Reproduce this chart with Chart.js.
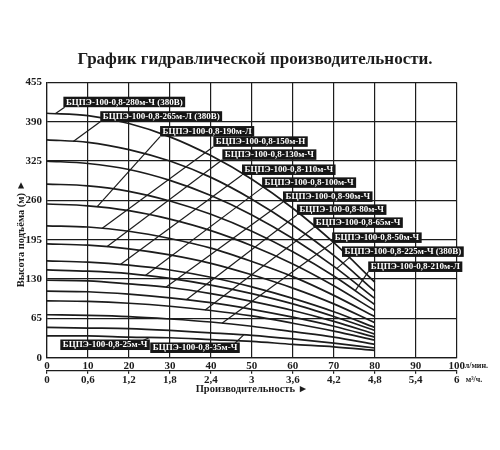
<!DOCTYPE html>
<html>
<head>
<meta charset="utf-8">
<script src="https://cdn.jsdelivr.net/npm/chart.js@4"></script>
<style>
  body { margin: 0; background: #fff; }
  #wrap { width: 500px; height: 450px; }
</style>
</head>
<body>
<div id="wrap"><canvas id="chart"></canvas></div>
<script>
// flow, l/min
var flowLpm = [0, 10, 20, 30, 40, 50, 60, 70, 80];

// head, m
var head280 = [404, 400, 387, 365, 334, 295, 247, 190, 125];
var head265 = [360, 356, 344, 325, 298, 262, 219, 169, 110];
var head225 = [325, 321, 311, 293, 268, 236, 197, 151, 98];
var head210 = [287, 284, 275, 259, 237, 209, 175, 135, 88];
var head190 = [254, 251, 243, 229, 210, 185, 155, 119, 78];
var head150 = [218, 216, 209, 197, 181, 159, 134, 103, 68];
var head130 = [188, 186, 180, 170, 156, 137, 115, 89, 58];
var head110 = [160, 158, 153, 145, 133, 117, 98, 76, 50];
var head100 = [145, 143, 139, 131, 120, 106, 89, 68, 45];
var head90 = [128, 127, 122, 116, 106, 93, 78, 60, 39];
var head80 = [110, 109, 105, 99, 91, 80, 67, 52, 34];
var head65 = [94, 93, 90, 85, 78, 69, 57, 44, 29];
var head50 = [71, 70, 68, 64, 59, 52, 43, 34, 22];
var head35 = [50, 49, 48, 45, 41, 37, 31, 24, 16];
var head25 = [36, 36, 34, 33, 30, 27, 22, 18, 12];

var pumpNames = [
  'БЦПЭ-100-0,8-280м-Ч (380В)', 'БЦПЭ-100-0,8-265м-Л (380В)', 'БЦПЭ-100-0,8-225м-Ч (380В)',
  'БЦПЭ-100-0,8-210м-Л', 'БЦПЭ-100-0,8-190м-Л', 'БЦПЭ-100-0,8-150м-Н', 'БЦПЭ-100-0,8-130м-Ч',
  'БЦПЭ-100-0,8-110м-Ч', 'БЦПЭ-100-0,8-100м-Ч', 'БЦПЭ-100-0,8-90м-Ч', 'БЦПЭ-100-0,8-80м-Ч',
  'БЦПЭ-100-0,8-65м-Ч', 'БЦПЭ-100-0,8-50м-Ч', 'БЦПЭ-100-0,8-35м-Ч', 'БЦПЭ-100-0,8-25м-Ч'
];
var pumpHeads = [head280, head265, head225, head210, head190, head150, head130,
  head110, head100, head90, head80, head65, head50, head35, head25];

// axis ticks
var headTicks = [0, 65, 130, 195, 260, 325, 390, 455];
var lpmTicks = [0, 10, 20, 30, 40, 50, 60, 70, 80, 90, 100];
var m3hTicks = [0, 0.6, 1.2, 1.8, 2.4, 3, 3.6, 4.2, 4.8, 5.4, 6];
var m3hLabels = ['0', '0,6', '1,2', '1,8', '2,4', '3', '3,6', '4,2', '4,8', '5,4', '6'];

// label boxes: bottom-left corner, leader start (flow on curve), leader end
var boxAt = [[4.0, 414], [13.0, 390], [72.0, 166.6], [78.4, 141.7], [27.6, 365.5], [40.6, 348.5],
  [42.8, 327], [47.6, 302], [52.5, 280.7], [57.6, 257.5], [61, 236], [65, 214.5], [69.6, 189.7],
  [25.2, 7.8], [3.25, 12.7]];
var leaderFrom = [2, 6.4, 70.7, 75.2, 12.2, 13.4, 14.6, 17.9, 24, 29, 34, 38.6, 42.7, 48, 25];
var leaderTo = [[4.3, 414], [13.0, 390], [74, 166.6], [78.4, 141.7], [27.6, 365.5], [40.6, 348.5],
  [42.8, 327], [47.6, 302], [52.5, 280.7], [57.6, 257.5], [61, 236], [65, 214.5], [69.6, 189.7],
  [45.2, 19.4], [23.2, 27.6]];

var FONT = '"Liberation Serif", "Times New Roman", serif';
var INK = '#1c1c1c';

function headAt(arr, q) {
  for (var i = 0; i < flowLpm.length - 1; i++) {
    if (q <= flowLpm[i + 1]) {
      var t = (q - flowLpm[i]) / (flowLpm[i + 1] - flowLpm[i]);
      return arr[i] + (arr[i + 1] - arr[i]) * t;
    }
  }
  return arr[arr.length - 1];
}

var datasets = [];
pumpHeads.forEach(function (arr) {
  datasets.push({
    data: flowLpm.map(function (q, i) { return { x: q, y: arr[i] }; }),
    borderColor: INK, borderWidth: 1.7, pointRadius: 0,
    cubicInterpolationMode: 'monotone', fill: false
  });
});
pumpHeads.forEach(function (arr, i) {
  datasets.push({
    data: [{ x: leaderFrom[i], y: headAt(arr, leaderFrom[i]) }, { x: leaderTo[i][0], y: leaderTo[i][1] }],
    borderColor: INK, borderWidth: 1.2, pointRadius: 0, tension: 0, fill: false
  });
});

// black name boxes, axis units, title and the vertical axis name
var labelPlugin = {
  id: 'pumpLabels',
  afterDatasetsDraw: function (chart) {
    var ctx = chart.ctx, x = chart.scales.x, y = chart.scales.y, x2 = chart.scales.x2;
    ctx.save();
    ctx.font = 'bold 9px ' + FONT;
    ctx.textBaseline = 'middle';
    pumpNames.forEach(function (name, i) {
      var px = x.getPixelForValue(boxAt[i][0]);
      var py = y.getPixelForValue(boxAt[i][1]);
      var w = ctx.measureText(name).width + 5;
      ctx.fillStyle = '#161616';
      ctx.fillRect(px, py - 10.5, w, 10.5);
      ctx.fillStyle = '#fff';
      ctx.fillText(name, px + 2.5, py - 5);
    });
    ctx.fillStyle = INK;
    ctx.font = 'bold 8px ' + FONT;
    ctx.fillText('л/мин.', x.getPixelForValue(100) + 8, x.top + 8.5);
    ctx.fillText('м³/ч.', x2.getPixelForValue(6) + 9, x2.top + 9);

    ctx.textAlign = 'center';
    ctx.font = 'bold 17px ' + FONT;
    ctx.fillText('График гидравлической производительности.', 255, 60);

    // y axis name, a bit below the middle as in the picture
    ctx.translate(21, y.getPixelForValue(205));
    ctx.rotate(-Math.PI / 2);
    ctx.font = 'bold 10.5px ' + FONT;
    ctx.fillText('Высота подъёма (м) ►', 0, 0);
    ctx.restore();
  }
};

Chart.defaults.font.family = FONT;
Chart.defaults.color = INK;

new Chart(document.getElementById('chart'), {
  type: 'line',
  data: { datasets: datasets },
  plugins: [labelPlugin],
  options: {
    responsive: true,
    maintainAspectRatio: false,
    animation: false,
    layout: { padding: { top: 82.4, left: 10, right: 43.3, bottom: 47.3 } },
    plugins: {
      legend: { display: false },
      tooltip: { enabled: false },
      title: { display: false }
    },
    scales: {
      y: {
        min: 0, max: 455,
        afterBuildTicks: function (s) { s.ticks = headTicks.map(function (v) { return { value: v }; }); },
        afterFit: function (s) { s.width = 37; s.paddingTop = 0; s.paddingBottom = 0; },
        ticks: { font: { size: 11, weight: 'bold' }, padding: 5 },
        grid: { color: INK, lineWidth: 1.2, drawTicks: false },
        border: { color: INK, width: 1.2 }
      },
      x: {
        type: 'linear', position: 'bottom', weight: 0,
        min: 0, max: 100,
        afterBuildTicks: function (s) { s.ticks = lpmTicks.map(function (v) { return { value: v }; }); },
        afterFit: function (s) { s.height = 13; s.paddingLeft = 0; s.paddingRight = 0; },
        ticks: { font: { size: 11, weight: 'bold' }, padding: 2, maxRotation: 0 },
        grid: { color: INK, lineWidth: 1.2, drawTicks: false },
        border: { color: INK, width: 1.2 }
      },
      x2: {
        type: 'linear', position: 'bottom', weight: 1,
        min: 0, max: 6,
        afterBuildTicks: function (s) { s.ticks = m3hTicks.map(function (v) { return { value: v }; }); },
        afterFit: function (s) { s.height = 32; s.paddingLeft = 0; s.paddingRight = 0; },
        ticks: {
          font: { size: 11, weight: 'bold' }, padding: 0, maxRotation: 0,
          callback: function (v, i) { return m3hLabels[i]; }
        },
        grid: { drawOnChartArea: false, drawTicks: true, tickLength: 3, color: INK, lineWidth: 1.2 },
        border: { color: INK, width: 1.2 },
        title: {
          display: true, text: 'Производительность ►',
          font: { size: 10.5, weight: 'bold' }, padding: { top: 2, bottom: 7 }
        }
      }
    }
  }
});
</script>
</body>
</html>
